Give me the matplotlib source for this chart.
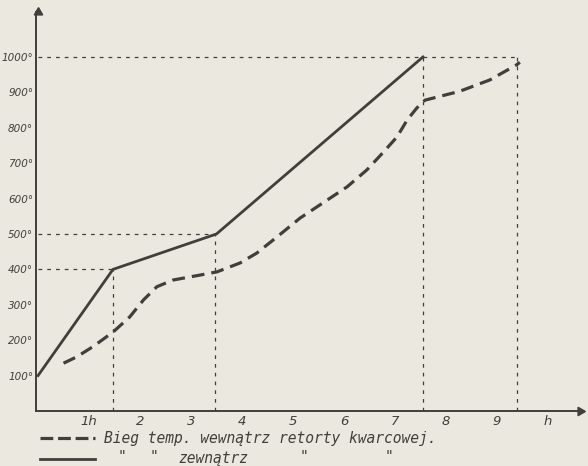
import matplotlib
matplotlib.use('Agg')
import matplotlib.pyplot as plt

# solid line: temperature outside the retort
hours_outside = [0.0, 1.47, 3.5, 7.55]
temp_outside = [100, 400, 500, 1000]

# dashed line: temperature inside the quartz retort
hours_inside = [0.50, 0.76, 1.08, 1.48, 1.80, 2.07, 2.33, 2.65, 3.18, 3.51, 3.96,
                4.29, 4.69, 5.14, 5.59, 6.06, 6.45, 6.76, 7.04, 7.24, 7.43, 7.59,
                8.27, 8.86, 9.39, 9.45]
temp_inside = [135, 153, 182, 224, 266, 314, 351, 370, 384, 393, 418,
               446, 492, 545, 588, 633, 681, 729, 774, 822, 856, 878,
               903, 935, 978, 985]

# guide lines (hour, temperature)
guide_points = [(1.47, 400), (3.47, 500), (9.4, 1000)]
guide_extra_x = [7.55]

x_ticks = [1, 2, 3, 4, 5, 6, 7, 8, 9, 10]
x_tick_labels = ['1h', '2', '3', '4', '5', '6', '7', '8', '9', 'h']
y_ticks = [100, 200, 300, 400, 500, 600, 700, 800, 900, 1000]
y_tick_labels = [f'{v}°' for v in y_ticks]

legend_inside = 'Bieg temp. wewnątrz retorty kwarcowej.'

paper = '#ebe9df'
ink = '#3f3f3c'
W, H = 588, 466

fig = plt.figure(figsize=(W / 100, H / 100), dpi=100, facecolor=paper)
ax = fig.add_axes([36 / W, (H - 411) / H, (580 - 36) / W, (411 - 12) / H])
ax.set_facecolor(paper)
ax.set_xlim(-0.04, 10.63)
ax.set_ylim(0, 1127)

for side in ['top', 'right']:
    ax.spines[side].set_visible(False)
for side in ['left', 'bottom']:
    ax.spines[side].set_color(ink)
    ax.spines[side].set_linewidth(1.4)

# axis arrows
ax.plot(1, 0, marker=(3, 0, -90), markersize=7, color=ink,
        transform=ax.get_yaxis_transform(), clip_on=False)
ax.plot(0, 1, marker=(3, 0, 0), markersize=7, color=ink,
        transform=ax.get_xaxis_transform(), clip_on=False)

# guide lines
guide_style = dict(color=ink, linewidth=0.9, linestyle=(0, (3, 4)))
for gx, gy in guide_points:
    ax.plot([0, gx], [gy, gy], **guide_style)
    ax.plot([gx, gx], [0, gy], **guide_style)
for gx in guide_extra_x:
    ax.plot([gx, gx], [0, 1000], **guide_style)

ax.plot(hours_outside, temp_outside, color=ink, linewidth=2.0,
        solid_joinstyle='miter')
ax.plot(hours_inside, temp_inside, color=ink, linewidth=2.3,
        linestyle=(0, (4, 2.2)))

ax.set_xticks(x_ticks)
ax.set_xticklabels(x_tick_labels, fontstyle='italic', fontsize=9.5, color=ink)
ax.set_yticks(y_ticks)
ax.set_yticklabels(y_tick_labels, fontstyle='italic', fontsize=7.5, color=ink)
ax.tick_params(axis='x', length=0, pad=3)
ax.tick_params(axis='y', length=0, pad=2)

# legend, hand lettered under the plot
mono = dict(family='DejaVu Sans Mono', fontstyle='italic', fontsize=10.5,
            color=ink, va='center')
fig.add_artist(plt.Line2D([40 / W, 95 / W], [1 - 438 / H] * 2, color=ink,
                          linewidth=2.3, linestyle=(0, (4, 1.5))))
fig.text(104 / W, 1 - 439 / H, legend_inside, **mono)
fig.add_artist(plt.Line2D([40 / W, 95 / W], [1 - 459 / H] * 2, color=ink,
                          linewidth=2.0))
for x_px, word in [(118, '"'), (150, '"'), (178, 'zewnątrz'), (300, '"'), (385, '"')]:
    fig.text(x_px / W, 1 - 458 / H, word, **mono)

fig.savefig('out.png', dpi=100, facecolor=paper)
